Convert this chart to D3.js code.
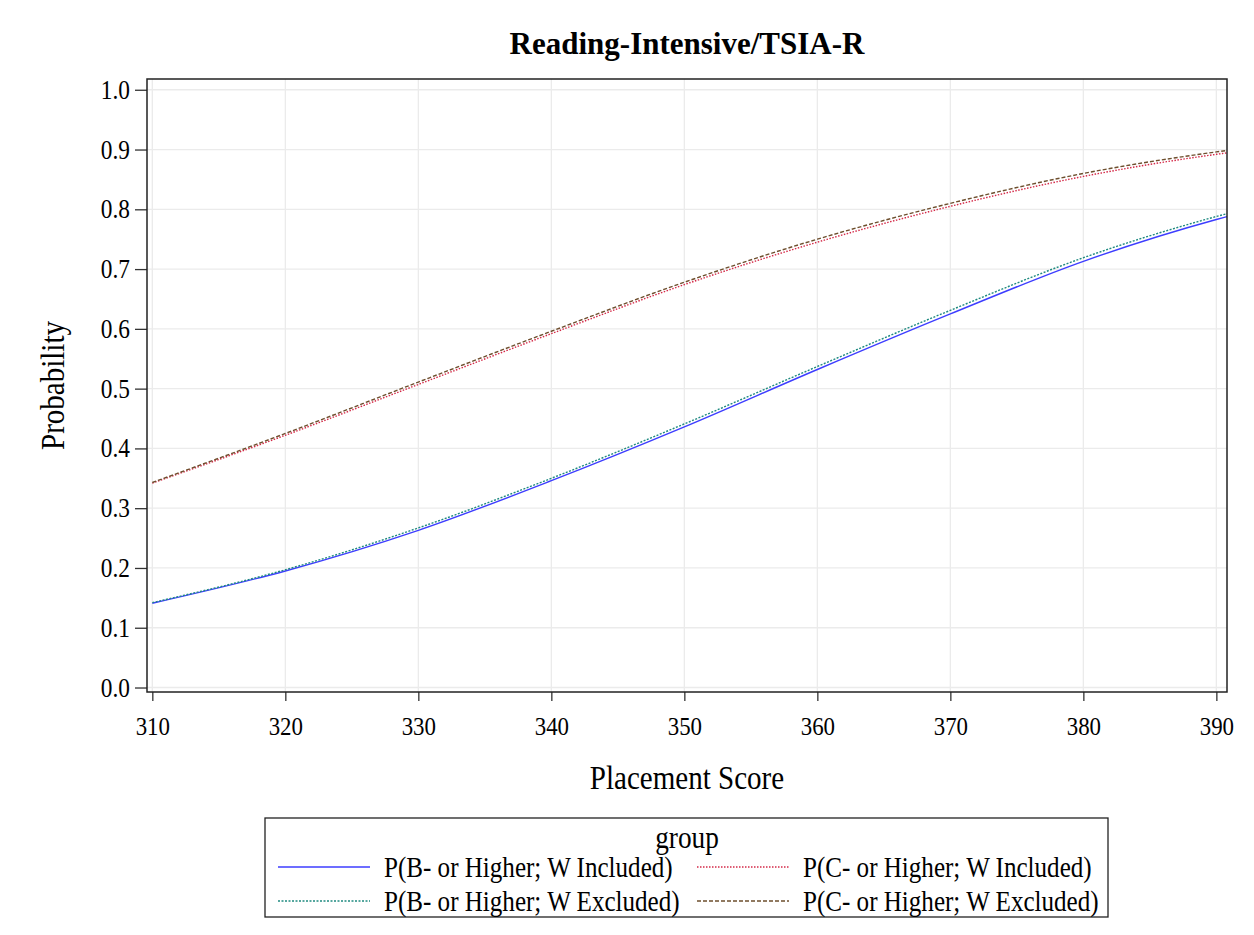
<!DOCTYPE html>
<html>
<head>
<meta charset="utf-8">
<script src="https://cdn.jsdelivr.net/npm/d3@7"></script>
<style>
  body { margin: 0; background: #fff; }
  text { font-family: "Liberation Serif", "DejaVu Serif", serif; fill: #000; }
  .grid line { stroke: #ebebeb; stroke-width: 1.3; }
  .axis path { display: none; }
  .axis line { stroke: #333; stroke-width: 1.3; }
</style>
</head>
<body>
<div id="the_chart"></div>
<script>
// placement scores (x)
var scores = [310, 320, 330, 340, 350, 360, 370, 380, 390, 391];
// predicted probabilities
var bIncluded = [0.141, 0.195, 0.263, 0.346, 0.436, 0.532, 0.625, 0.713, 0.783, 0.789];
var bExcluded = [0.142, 0.197, 0.267, 0.350, 0.441, 0.537, 0.631, 0.719, 0.788, 0.794];
var cIncluded = [0.342, 0.422, 0.507, 0.592, 0.674, 0.745, 0.805, 0.855, 0.892, 0.895];
var cExcluded = [0.343, 0.425, 0.511, 0.596, 0.678, 0.750, 0.810, 0.860, 0.896, 0.899];
var seriesNames = ["P(B- or Higher; W Included)", "P(B- or Higher; W Excluded)",
                   "P(C- or Higher; W Included)", "P(C- or Higher; W Excluded)"];
var xTicks = [310, 320, 330, 340, 350, 360, 370, 380, 390];
var yTicks = [0, 0.1, 0.2, 0.3, 0.4, 0.5, 0.6, 0.7, 0.8, 0.9, 1.0];

var w = 1254, h = 935;
var mLeft = 147, mRight = 1227, mTop = 79, mBottom = 692;
var sx = 0.88; // the SAS serif font is narrower than Liberation Serif

var svg = d3.select("#the_chart").append("svg")
  .attr("width", w).attr("height", h);

// squeeze text horizontally, keeping its anchor point
function condense(sel) {
  sel.each(function() {
    var t = d3.select(this);
    var x = +t.attr("x") || 0;
    t.attr("x", x / sx);
    var tr = t.attr("transform");
    t.attr("transform", (tr ? tr + " " : "") + "scale(" + sx + ",1)");
  });
}

var xscale = d3.scaleLinear().domain([309.6, 390.8]).range([mLeft, mRight]);
var yscale = d3.scaleLinear().domain([-0.0075, 1.018]).range([mBottom, mTop]);

// gridlines
svg.append("g").attr("class", "grid")
  .selectAll("line").data(xTicks).enter().append("line")
  .attr("x1", function(d){ return xscale(d); }).attr("x2", function(d){ return xscale(d); })
  .attr("y1", mTop).attr("y2", mBottom);
svg.append("g").attr("class", "grid")
  .selectAll("line").data(yTicks).enter().append("line")
  .attr("y1", function(d){ return yscale(d); }).attr("y2", function(d){ return yscale(d); })
  .attr("x1", mLeft).attr("x2", mRight);

// axes
var xaxis = d3.axisBottom(xscale).tickValues(xTicks).tickSize(9).tickPadding(16).tickFormat(d3.format("d"));
svg.append("g").attr("class", "axis")
  .attr("transform", "translate(0," + mBottom + ")")
  .call(xaxis)
  .selectAll("text").style("font-size", "26px").call(condense);

var yaxis = d3.axisLeft(yscale).tickValues(yTicks).tickSize(12).tickPadding(5).tickFormat(d3.format(".1f"));
svg.append("g").attr("class", "axis")
  .attr("transform", "translate(" + mLeft + ",0)")
  .call(yaxis)
  .selectAll("text").style("font-size", "26.5px").call(condense);

// lines
svg.append("clipPath").attr("id", "clip")
  .append("rect").attr("x", mLeft).attr("y", mTop).attr("width", mRight - mLeft).attr("height", mBottom - mTop);

var styles = [
  { data: bIncluded, color: "#3d3dff", dash: null },
  { data: bExcluded, color: "#1f8a80", dash: "2,1.5" },
  { data: cIncluded, color: "#d42a48", dash: "1.5,1.5" },
  { data: cExcluded, color: "#6e4f2e", dash: "4,2" }
];

var line = d3.line()
  .x(function(d){ return xscale(d[0]); })
  .y(function(d){ return yscale(d[1]); })
  .curve(d3.curveMonotoneX);

var plotG = svg.append("g").attr("clip-path", "url(#clip)");
styles.forEach(function(s) {
  plotG.append("path")
    .datum(scores.map(function(x, i){ return [x, s.data[i]]; }))
    .attr("fill", "none")
    .attr("stroke", s.color)
    .attr("stroke-width", 1.4)
    .attr("stroke-dasharray", s.dash)
    .attr("d", line);
});

// frame
svg.append("rect").attr("x", mLeft).attr("y", mTop)
  .attr("width", mRight - mLeft).attr("height", mBottom - mTop)
  .attr("fill", "none").attr("stroke", "#222").attr("stroke-width", 1.5);

// titles
svg.append("text").attr("x", (mLeft + mRight) / 2).attr("y", 54)
  .attr("text-anchor", "middle").style("font-size", "31px").style("font-weight", "bold")
  .text("Reading-Intensive/TSIA-R");
svg.append("text").attr("x", (mLeft + mRight) / 2).attr("y", 789)
  .attr("text-anchor", "middle").style("font-size", "33px")
  .text("Placement Score").call(condense);
svg.append("text")
  .attr("transform", "translate(64," + ((mTop + mBottom) / 2) + ") rotate(-90)")
  .attr("text-anchor", "middle").style("font-size", "33px")
  .text("Probability").call(condense);

// legend
var lg = svg.append("g");
lg.append("rect").attr("x", 265).attr("y", 818).attr("width", 843).attr("height", 99)
  .attr("fill", "none").attr("stroke", "#222").attr("stroke-width", 1.3);
lg.append("text").attr("x", 687).attr("y", 848).attr("text-anchor", "middle")
  .style("font-size", "31px").text("group").call(condense);

var legPos = [
  { x: 278, y: 867 }, { x: 278, y: 901 },
  { x: 697, y: 867 }, { x: 697, y: 901 }
];
styles.forEach(function(s, i) {
  var p = legPos[i];
  lg.append("line").attr("x1", p.x).attr("x2", p.x + 92).attr("y1", p.y).attr("y2", p.y)
    .attr("stroke", s.color).attr("stroke-width", 1.4).attr("stroke-dasharray", s.dash);
  lg.append("text").attr("x", p.x + 106).attr("y", p.y + 10)
    .style("font-size", "28.5px").text(seriesNames[i]).call(condense);
});
</script>
</body>
</html>
